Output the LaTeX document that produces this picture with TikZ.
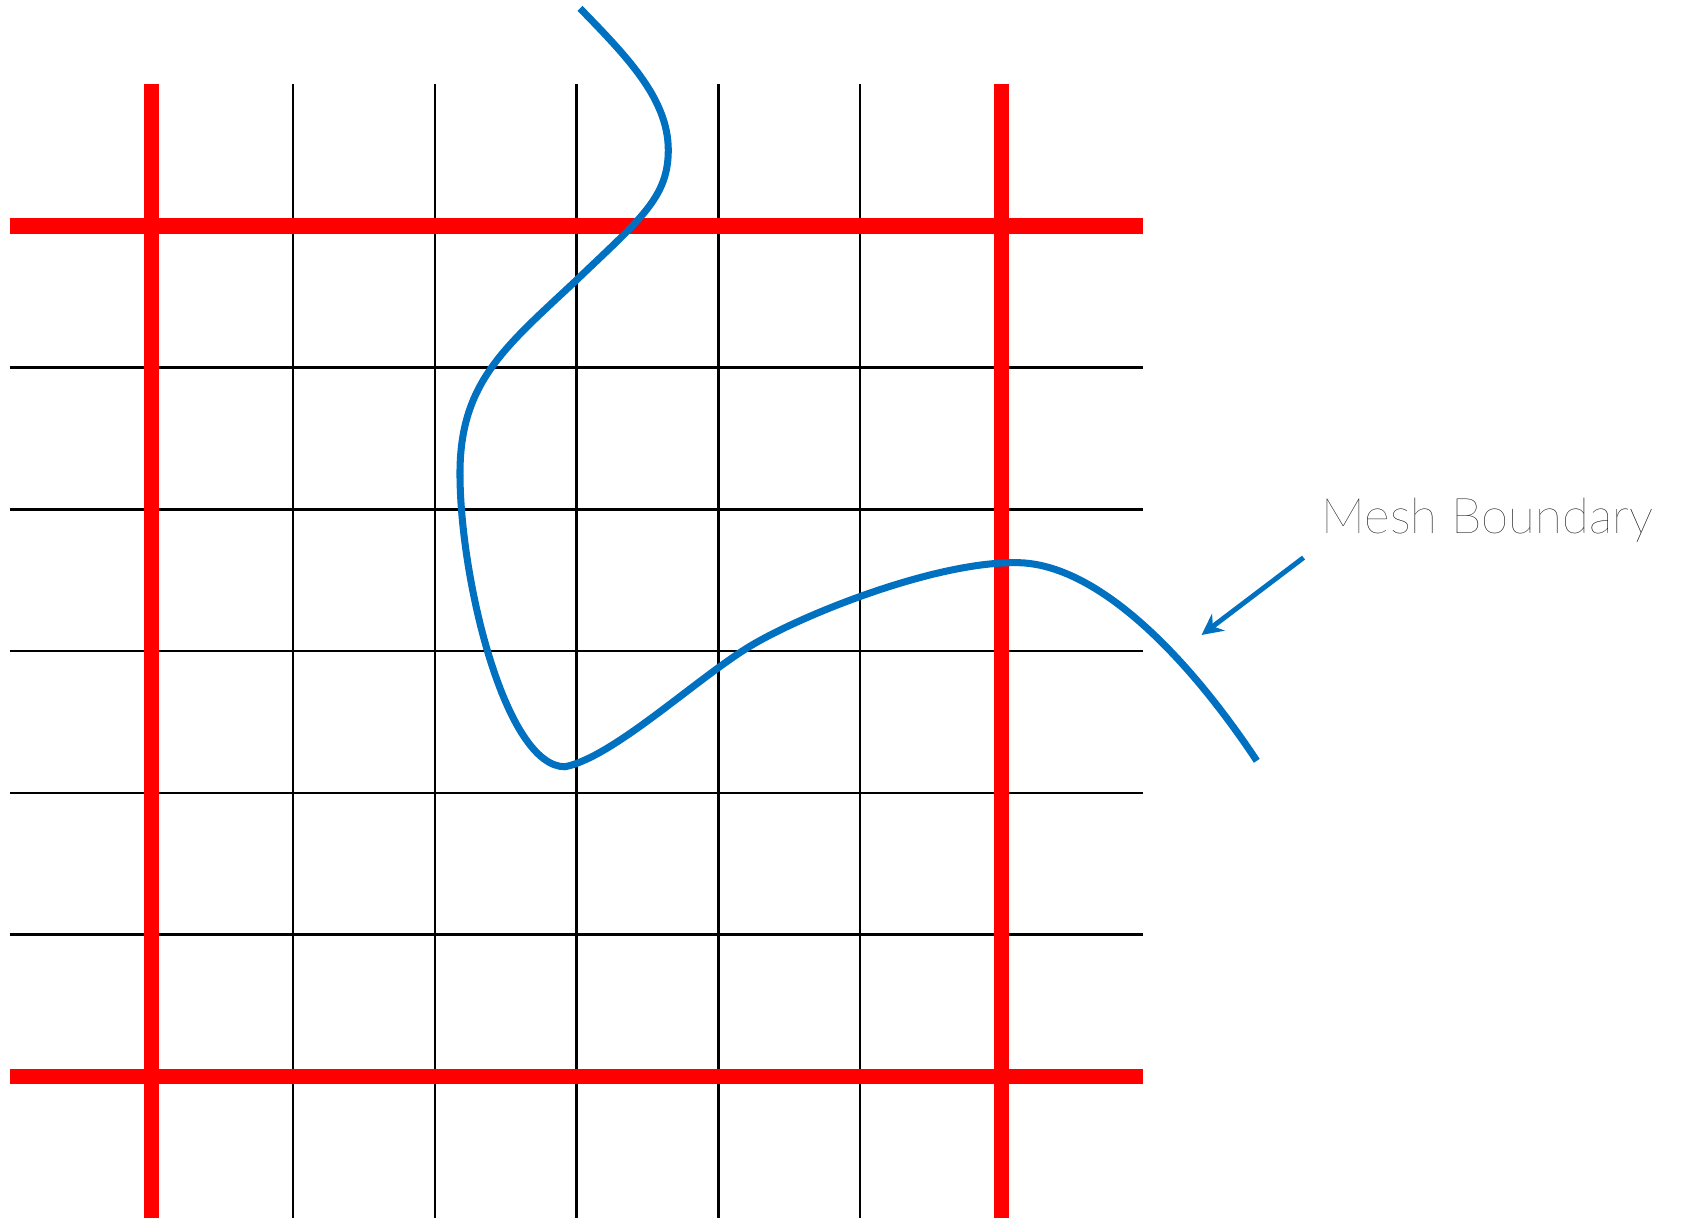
\documentclass[tikz,border=0pt]{standalone}
\usepackage{fontspec}
\newfontfamily\labelfont[UprightFont={* Hairline}]{Lato}
\usetikzlibrary{arrows.meta, positioning}
\definecolor{meshblue}{RGB}{0,112,192}

\begin{document}
\begin{tikzpicture}[x=1.417cm, y=1.417cm]
    \useasboundingbox (-1.069,-1.029) rectangle (10.843,7.595);

        % --- grid ---
        \foreach \i in {1,...,5} {
            \draw[line width=0.7pt] (\i,-1) -- (\i,7);
            \draw[line width=0.7pt] (-1,\i) -- (7,\i);
        }

        % red lines
        \foreach \i in {0,6} {
            \draw[red, line width=4.3pt] (\i,-1) -- (\i,7);
            \draw[red, line width=4.3pt] (-1,\i) -- (7,\i);
        }

        % --- boundary curve ---
        \draw[meshblue, line width=2pt]
            (3.024,7.536) .. controls (3.35,7.2) and (3.647,6.9) .. (3.647,6.536)
            .. controls (3.647,6.2) and (3.45,6.05) .. (3.0,5.619)
            .. controls (2.5,5.15) and (2.177,4.9) .. (2.177,4.255)
            .. controls (2.177,3.5) and (2.5,2.184) .. (2.918,2.184)
            .. controls (3.25,2.25) and (3.815,2.778) .. (4.2,3.02)
            .. controls (4.55,3.24) and (5.5,3.624) .. (6.082,3.624)
            .. controls (6.65,3.64) and (7.3,2.98) .. (7.8,2.226);

        % --- label ---
        \node[anchor=base west, inner sep=0pt, font=\labelfont\fontsize{14}{17}\selectfont, text=black]
            (meshlabel) at (8.253,3.833) {Mesh Boundary};
        \coordinate (arrowstart) at (8.13,3.66);
        \coordinate (arrowtip) at (7.41,3.114);
        \draw[meshblue, line width=1.4pt, -{Stealth[length=6pt, width=6pt]}] (arrowstart) -- (arrowtip);

\end{tikzpicture}
\end{document}
